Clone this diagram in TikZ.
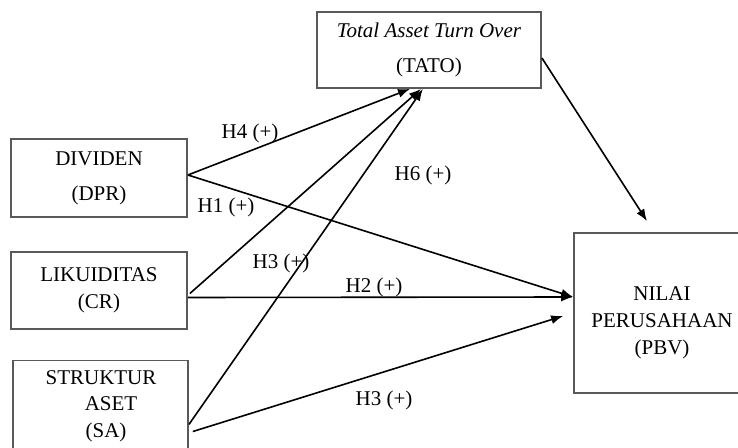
\documentclass[tikz,border=0pt]{standalone}
\usepackage{fontspec}
\setmainfont{Liberation Serif}
\usepackage{tikz}
\usetikzlibrary{positioning,arrows.meta}

\begin{document}
\begin{tikzpicture}[x=0.5pt,y=-0.5pt,
  box/.style={draw=black!65, line width=0.9pt, align=center, inner sep=0pt,
    font=\fontsize{10.5}{13.5}\selectfont},
  hyp/.style={font=\fontsize{10.5}{13.5}\selectfont, inner sep=0pt},
  link/.style={line width=0.8pt, -{Latex[length=6pt,width=4.5pt]}}]
\useasboundingbox (0,0) rectangle (738,448);
% Boxes
\node[box, minimum width=88pt, minimum height=39pt] (dpr) at (99,178) {DIVIDEN\\[4pt](DPR)};
\node[box, minimum width=88pt, minimum height=38.5pt] (cr) at (99,290.5) {LIKUIDITAS\\(CR)};
\node[box, minimum width=87.5pt, minimum height=50pt, text depth=0pt] (sa) at (100.5,410.5) {};
\node[hyp, align=center, font=\fontsize{10.5}{13.3}\selectfont] (satext) at (101,406) {STRUKTUR\\\hspace*{10pt}ASET\\\hspace*{5pt}(SA)};
\node[box, minimum width=112pt, minimum height=38pt] (tato) at (429,50) {\textit{Total Asset Turn Over}\\[4pt](TATO)};
\node[box, minimum width=88pt, minimum height=80pt,
  label={[hyp, align=center, yshift=-5pt]center:NILAI\\PERUSAHAAN\\(PBV)}] (pbv) at (662,313) {};
% Arrows
\draw[link] ([yshift=1.5pt]dpr.east) -- ([xshift=-9.5pt]tato.south);
\draw[link] ([yshift=1.5pt]dpr.east) -- ([yshift=8pt]pbv.west);
\draw[link] ([xshift=1pt,yshift=-1.5pt]cr.east) -- ([xshift=-4pt]tato.south);
\draw[link] ([yshift=-3.5pt]cr.east) -- ([yshift=8pt]pbv.west);
\draw[link] ([yshift=-7pt]sa.east) -- ([xshift=-3pt]tato.south);
\draw[link] ([xshift=2pt,yshift=-10.5pt]sa.east) -- ([xshift=-5pt,yshift=-1.5pt]pbv.west);
\draw[link] ([yshift=-4pt]tato.east) -- ([xshift=-7.5pt,yshift=5.5pt]pbv.north);
% Labels
\node[hyp] (h4) at (250,133) {H4 (+)};
\node[hyp] (h1) at (226,207) {H1 (+)};
\node[hyp] (h6) at (423,175) {H6 (+)};
\node[hyp] (h3a) at (281,263) {H3 (+)};
\node[hyp] (h2) at (374,287) {H2 (+)};
\node[hyp] (h3b) at (384,400) {H3 (+)};
\end{tikzpicture}
\end{document}
